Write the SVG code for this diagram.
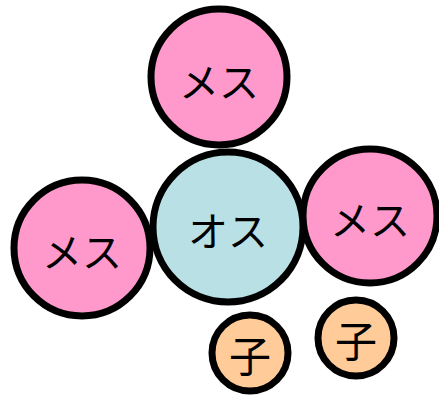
<svg xmlns="http://www.w3.org/2000/svg" width="439" height="395" viewBox="0 0 439 395">
<style>
circle{stroke:#000;stroke-width:7}
.f{fill:#ff99cc}
.m{fill:#b9e0e5}
.c{fill:#ffcc99}
text{font-family:"Noto Sans CJK JP","Noto Sans CJK SC",sans-serif;text-anchor:middle;dominant-baseline:central;fill:#000}
.t1{font-size:40px}
.t2{font-size:42px}
</style>
<g id="connectors"></g>
<g id="top-female"><circle class="f" cx="219" cy="77" r="68"/><text class="t1" x="219" y="80">メス</text></g>
<g id="left-female"><circle class="f" cx="82" cy="248" r="68"/><text class="t1" x="82" y="250">メス</text></g>
<g id="right-female"><circle class="f" cx="370" cy="216" r="67"/><text class="t1" x="370" y="218">メス</text></g>
<g id="male"><circle class="m" cx="228" cy="227" r="75"/><text class="t1" x="228" y="229">オス</text></g>
<g id="child1"><circle class="c" cx="250" cy="353" r="38"/><text class="t2" x="250" y="353">子</text></g>
<g id="child2"><circle class="c" cx="356" cy="338" r="38"/><text class="t2" x="356" y="338">子</text></g>
</svg>
